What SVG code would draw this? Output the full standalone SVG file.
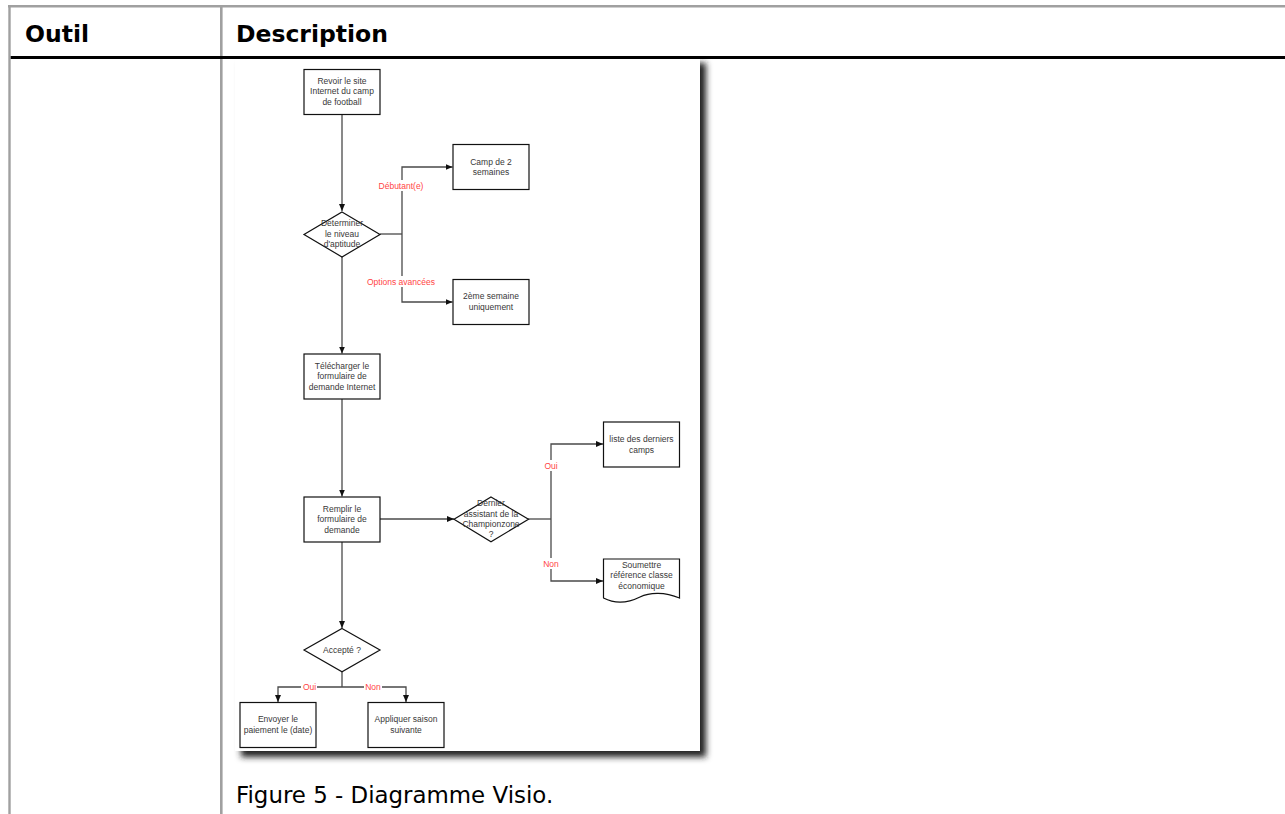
<svg xmlns="http://www.w3.org/2000/svg" width="1285" height="814" viewBox="0 0 1285 814">
<style>
.hd{font-family:"DejaVu Sans","Verdana",sans-serif;font-weight:bold;font-size:23.5px;fill:#000}
.cap{font-family:"DejaVu Sans","Verdana",sans-serif;font-size:22.9px;fill:#000}
.box{fill:#fff;stroke:#111;stroke-width:1.2}
.t{font-family:"Liberation Sans",Arial,sans-serif;font-size:8.5px;fill:#383838;text-anchor:middle}
.lb{font-family:"Liberation Sans",Arial,sans-serif;font-size:8.5px;fill:#ff4545;text-anchor:middle}
.cn{fill:none;stroke:#4a4a4a;stroke-width:1.3}
.cna{fill:none;stroke:#4a4a4a;stroke-width:1.3;marker-end:url(#ah)}
.bg{fill:#fff}
</style>
<defs>
<marker id="ah" markerUnits="userSpaceOnUse" markerWidth="7" markerHeight="6" refX="7" refY="3" orient="auto">
<path d="M0,0 L7,3 L0,6 z" fill="#111"/>
</marker>
<filter id="sh" x="-10%" y="-10%" width="120%" height="120%">
<feGaussianBlur stdDeviation="3"/>
</filter>
</defs>
<rect width="1285" height="814" fill="#fff"/>
<g id="table">
<line x1="8" y1="6.2" x2="1285" y2="6.2" stroke="#a0a0a0" stroke-width="2.4"/>
<line x1="9.5" y1="5" x2="9.5" y2="814" stroke="#a0a0a0" stroke-width="2.4"/>
<line x1="221.3" y1="5" x2="221.3" y2="814" stroke="#a0a0a0" stroke-width="2.6"/>
<line x1="10.7" y1="57.5" x2="1285" y2="57.5" stroke="#000" stroke-width="3"/>
<text class="hd" x="25" y="42">Outil</text>
<text class="hd" x="236" y="42">Description</text>
<text class="cap" x="236" y="803">Figure 5 - Diagramme Visio.</text>
</g>
<g id="page">
<rect x="241" y="63" width="465" height="694" fill="#222" filter="url(#sh)"/>
<rect x="235" y="59" width="465" height="692" fill="#fff"/>
</g>
<g id="connectors">
<path class="cna" d="M342,114 V211"/>
<path class="cn" d="M380,234 H402"/>
<path class="cna" d="M402,234 V167 H452.5"/>
<path class="cna" d="M402,234 V302 H452.5"/>
<path class="cna" d="M342,257 V353.5"/>
<path class="cna" d="M342,399 V496.5"/>
<path class="cna" d="M380,519 H454"/>
<path class="cn" d="M528,519 H551"/>
<path class="cna" d="M551,519 V444 H603"/>
<path class="cna" d="M551,519 V581 H603"/>
<path class="cna" d="M342,542 V628"/>
<path class="cn" d="M342,672 V687"/>
<path class="cna" d="M342,687 H278 V702"/>
<path class="cna" d="M342,687 H406 V702"/>
<rect class="bg" x="378" y="180" width="46" height="11"/>
<text class="lb" x="401" y="189">Débutant(e)</text>
<rect class="bg" x="368" y="276" width="66" height="11"/>
<text class="lb" x="401" y="285">Options avancées</text>
<rect class="bg" x="543" y="460" width="16" height="11"/>
<text class="lb" x="551" y="469">Oui</text>
<rect class="bg" x="542" y="558" width="18" height="11"/>
<text class="lb" x="551" y="567">Non</text>
<rect class="bg" x="301" y="681" width="16" height="11"/>
<text class="lb" x="309.5" y="690">Oui</text>
<rect class="bg" x="364" y="681" width="18" height="11"/>
<text class="lb" x="373" y="690">Non</text>
</g>
<g id="n_revoir">
<rect class="box" x="304" y="69.5" width="76" height="45"/>
<text class="t" x="342" y="84">Revoir le site</text>
<text class="t" x="342" y="94.3">Internet du camp</text>
<text class="t" x="342" y="104.7">de football</text>
</g>
<g id="n_determiner">
<path class="box" d="M342,212 L380,234.5 L342,257 L304,234.5 Z"/>
<text class="t" x="342" y="226">Determiner</text>
<text class="t" x="342" y="237">le niveau</text>
<text class="t" x="342" y="247">d'aptitude</text>
</g>
<g id="n_camp">
<rect class="box" x="453" y="144.5" width="76" height="45"/>
<text class="t" x="491" y="165.3">Camp de 2</text>
<text class="t" x="491" y="175.3">semaines</text>
</g>
<g id="n_2eme">
<rect class="box" x="453" y="279.5" width="76" height="45"/>
<text class="t" x="491" y="299.3">2ème semaine</text>
<text class="t" x="491" y="309.7">uniquement</text>
</g>
<g id="n_telecharger">
<rect class="box" x="304" y="354" width="76" height="45"/>
<text class="t" x="342" y="369">Télécharger le</text>
<text class="t" x="342" y="379.3">formulaire de</text>
<text class="t" x="342" y="390">demande Internet</text>
</g>
<g id="n_remplir">
<rect class="box" x="304" y="497" width="76" height="45"/>
<text class="t" x="342" y="512">Remplir le</text>
<text class="t" x="342" y="522.3">formulaire de</text>
<text class="t" x="342" y="532.7">demande</text>
</g>
<g id="n_dernier">
<path class="box" d="M491,497 L528.5,519.3 L491,541.7 L454,519.3 Z"/>
<text class="t" x="491" y="506.3">Dernier</text>
<text class="t" x="491" y="516.7">assistant de la</text>
<text class="t" x="491" y="527">Championzone</text>
<text class="t" x="491" y="537.3">?</text>
</g>
<g id="n_liste">
<rect class="box" x="603.5" y="422" width="76" height="45"/>
<text class="t" x="641.5" y="442.3">liste des derniers</text>
<text class="t" x="641.5" y="452.7">camps</text>
</g>
<g id="n_soumettre">
<path class="box" d="M603.5,559 H679.5 V598 C665,592 650,592 640,597 C628,603 615,604 603.5,598 Z"/>
<text class="t" x="641.5" y="568">Soumettre</text>
<text class="t" x="641.5" y="578.3">référence classe</text>
<text class="t" x="641.5" y="588.7">économique</text>
</g>
<g id="n_accepte">
<path class="box" d="M342,628.5 L380,650 L342,671.7 L304,650 Z"/>
<text class="t" x="342" y="653">Accepté ?</text>
</g>
<g id="n_envoyer">
<rect class="box" x="240" y="702.5" width="76" height="45"/>
<text class="t" x="278" y="722.3">Envoyer le</text>
<text class="t" x="278" y="732.7">paiement le (date)</text>
</g>
<g id="n_appliquer">
<rect class="box" x="368" y="702.5" width="76" height="45"/>
<text class="t" x="406" y="722.3">Appliquer saison</text>
<text class="t" x="406" y="732.7">suivante</text>
</g>
</svg>
